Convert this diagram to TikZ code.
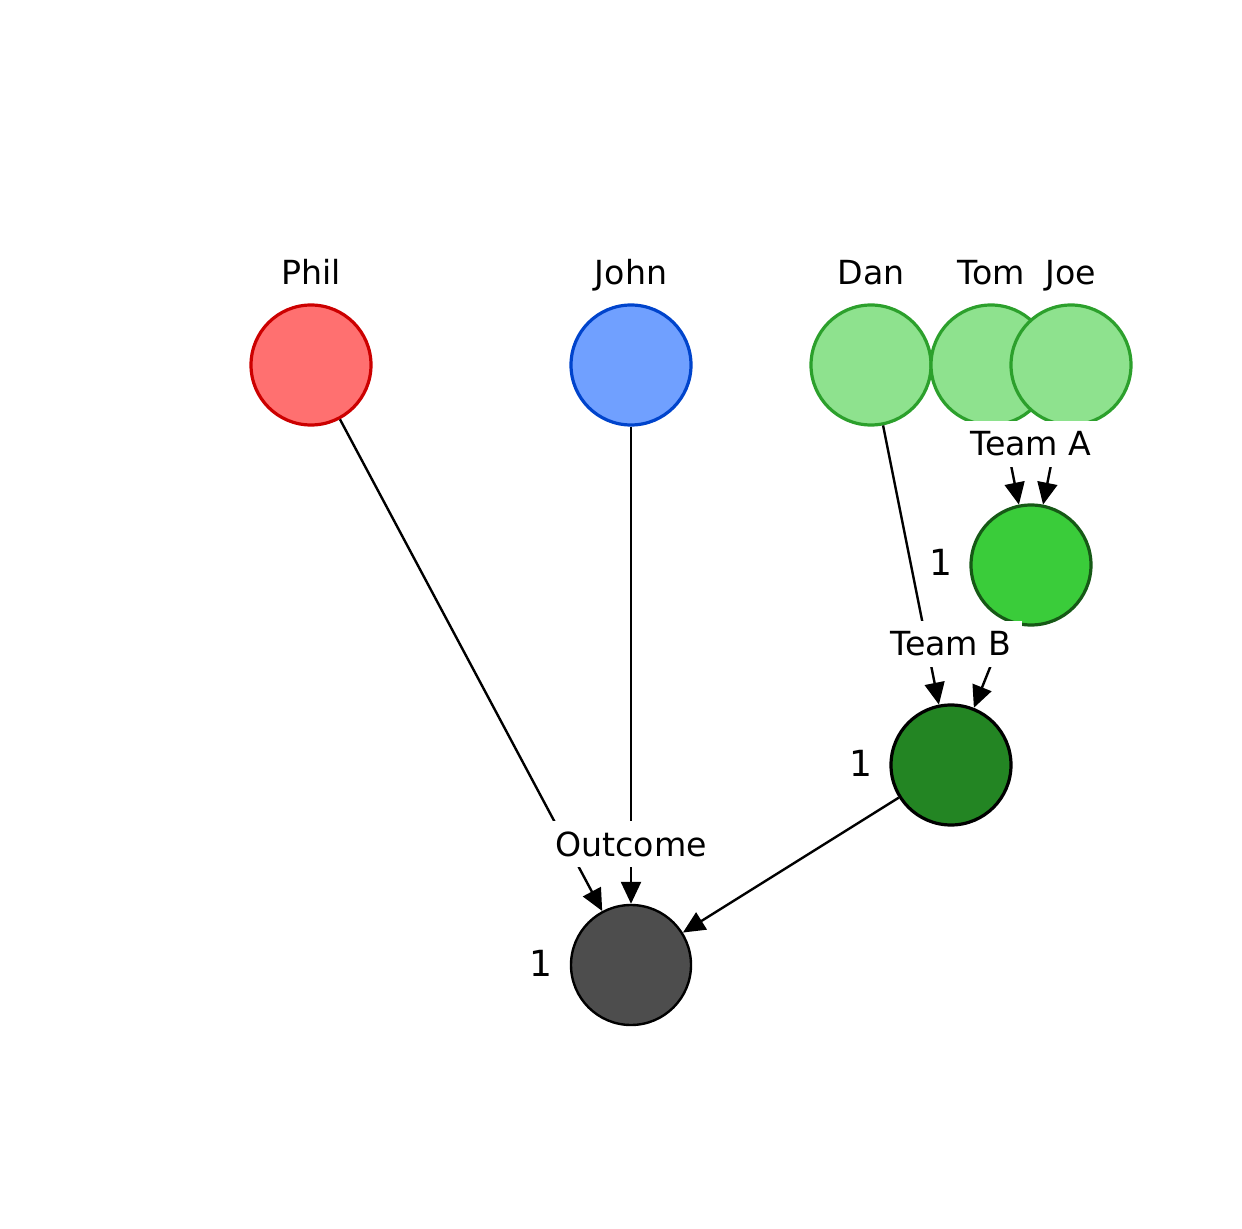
\documentclass[tikz,border=0pt]{standalone}
\usepackage{fontspec}
\setmainfont{DejaVu Sans}
\usetikzlibrary{arrows.meta}

\definecolor{philfill}{HTML}{FF7070}
\definecolor{philline}{HTML}{CC0000}
\definecolor{johnfill}{HTML}{70A0FF}
\definecolor{johnline}{HTML}{0044CC}
\definecolor{teamfill}{HTML}{8EE28E}
\definecolor{teamline}{HTML}{2CA02C}
\definecolor{teamAfill}{HTML}{3ACC3A}
\definecolor{teamAline}{HTML}{165916}
\definecolor{teamBfill}{HTML}{238523}
\definecolor{outfill}{HTML}{4D4D4D}

\newcommand{\txtfont}{\fontsize{16.6}{19}\selectfont}
\newcommand{\numfont}{\fontsize{18}{21}\selectfont}

\begin{document}
\begin{tikzpicture}[
    x=0.5pt, y=-0.5pt,
    base node/.style={circle, draw, minimum size=60pt, inner sep=0pt, line width=1.6pt},
    phil node/.style={base node, fill=philfill, draw=philline},
    john node/.style={base node, fill=johnfill, draw=johnline},
    team node/.style={base node, fill=teamfill, draw=teamline},
    teamA node/.style={base node, fill=teamAfill, draw=teamAline},
    teamB node/.style={base node, fill=teamBfill, draw=black},
    outcome node/.style={base node, fill=outfill, draw=black, line width=1.2pt},
    connection/.style={line width=1.2pt, -{Triangle[length=11pt, width=10pt]}},
    name label/.style={font=\txtfont, anchor=base},
    count label/.style={font=\numfont, anchor=base},
    edge label/.style={font=\txtfont, fill=white, inner xsep=5pt, inner ysep=0pt, minimum height=23pt}
]
\useasboundingbox (0,0) rectangle (1242,1229);

% Players
\node[phil node] (Phil) at (311,365) {};
\node[john node] (John) at (631,365) {};
\node[team node] (Dan) at (871,365) {};
\node[team node] (Tom) at (991,365) {};
\node[team node] (Joe) at (1071,365) {};

\node[name label] at (311,285) {Phil};
\node[name label] at (631,285) {John};
\node[name label] at (871,285) {Dan};
\node[name label] at (991,285) {Tom};
\node[name label] at (1071,285) {Joe};

% Factors
\node[teamA node] (TeamA) at (1031,565) {};
\node[teamB node] (TeamB) at (951,765) {};
\node[outcome node] (Outcome) at (631,965) {};

\node[count label] at (941,576) {1};
\node[count label] at (861,776) {1};
\node[count label] at (541,976) {1};

% Connections
\draw[connection] (Tom) -- (TeamA);
\draw[connection] (Joe) -- (TeamA);
\draw[connection] (Dan) -- (TeamB);
\draw[connection] (TeamA) -- (TeamB);
\draw[connection] (Phil) -- (Outcome);
\draw[connection] (John) -- (Outcome);
\draw[connection] (TeamB) -- (Outcome);

% Factor labels
\node[edge label] (TeamALabel) at (1031,444) {Team A};
\node[edge label] (TeamBLabel) at (951,644) {Team B};
\node[edge label] (OutcomeLabel) at (631,844) {Outcome};

\end{tikzpicture}
\end{document}
